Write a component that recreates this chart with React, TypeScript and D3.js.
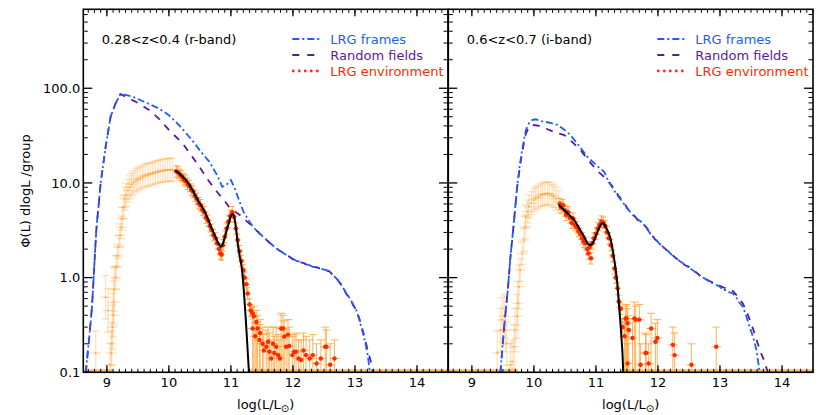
import React from 'react';
import * as d3 from 'd3';

const W = 830;
const H = 415;
const PANEL_LEFT = [83.3, 448.3];
const PANEL_W = 364.7;
const TOP = 9.3;
const BOTTOM = 372.3;

const xDomain: [number, number] = [8.62, 14.5];
const yDomain: [number, number] = [0.1, 682];

const xTickLabels = ['9', '10', '11', '12', '13', '14'];
const xTickValues = [9, 10, 11, 12, 13, 14];
const yTickValues = [0.1, 1, 10, 100];
const yTickLabels = ['0.1', '1.0', '10.0', '100.0'];
const yMinorTicks = [0.2, 0.3, 0.4, 0.5, 0.6, 0.7, 0.8, 0.9, 2, 3, 4, 5, 6, 7, 8, 9, 20, 30, 40, 50, 60, 70, 80, 90, 200, 300, 400, 500, 600];

const panelTitles = ['0.28<z<0.4 (r-band)', '0.6<z<0.7 (i-band)'];
const legendLabels = ['LRG frames', 'Random fields', 'LRG environment'];

// ---------- Panel A (0.28<z<0.4, r-band) ----------
const framesA = [[8.66,0.1],[8.72,0.25],[8.76,0.49],[8.83,3.2],[8.90,10],[8.98,24],[9.06,50],[9.14,69],[9.22,87],[9.30,85],[9.41,82],[9.60,72],[9.84,61],[10.00,52],[10.16,41],[10.38,28],[10.50,22],[10.65,16.8],[10.78,12],[10.86,9.1],[10.93,9.6],[11.00,10.7],[11.06,8.8],[11.13,6.6],[11.20,5.0],[11.30,3.9],[11.35,3.5],[11.40,3.2],[11.46,2.94],[11.52,2.7],[11.58,2.5],[11.63,2.3],[11.67,2.21],[11.72,2.05],[11.78,1.95],[11.84,1.82],[11.90,1.72],[11.94,1.66],[12.00,1.58],[12.06,1.50],[12.12,1.47],[12.17,1.42],[12.21,1.39],[12.27,1.35],[12.32,1.30],[12.38,1.28],[12.43,1.26],[12.49,1.22],[12.54,1.20],[12.58,1.16],[12.62,1.10],[12.66,1.04],[12.70,0.98],[12.75,0.90],[12.80,0.80],[12.86,0.68],[12.92,0.60],[12.97,0.52],[13.02,0.455],[13.07,0.36],[13.13,0.258],[13.17,0.20],[13.21,0.146],[13.24,0.10]];

const randomA = [[8.66,0.1],[8.72,0.25],[8.76,0.49],[8.83,3.2],[8.90,10],[8.98,24],[9.06,50],[9.14,69],[9.22,87],[9.30,81.5],[9.50,70],[9.68,59],[9.85,47],[10.00,36.3],[10.22,26.2],[10.35,20],[10.49,14.9],[10.62,11],[10.75,8.43],[10.87,6.8],[10.97,5.6],[11.08,4.9],[11.18,4.4],[11.26,3.9],[11.33,3.6],[11.40,3.2],[11.46,2.94],[11.52,2.72],[11.58,2.48],[11.63,2.32],[11.67,2.2],[11.72,2.08],[11.78,1.93],[11.84,1.84],[11.90,1.70],[11.94,1.67],[12.00,1.56],[12.06,1.52],[12.12,1.45],[12.17,1.43],[12.21,1.38],[12.27,1.36],[12.32,1.29],[12.38,1.29],[12.43,1.25],[12.49,1.23],[12.54,1.19],[12.58,1.17],[12.62,1.11],[12.66,1.03],[12.70,0.99],[12.75,0.89],[12.80,0.81],[12.86,0.67],[12.92,0.61],[12.97,0.51],[13.02,0.46],[13.07,0.37],[13.13,0.27],[13.18,0.2],[13.23,0.15],[13.27,0.12],[13.29,0.1]];

const fadedA = [[8.82,0.16],[8.98,0.62],[9.02,0.45],[9.05,0.12],[9.07,0.16],[9.08,0.2],[9.09,0.3],[9.10,0.4],[9.11,0.55],[9.12,0.75],[9.14,1.0],[9.15,1.3],[9.17,1.7],[9.19,2.1],[9.21,2.8],[9.23,3.4],[9.25,4.2],[9.27,5.5],[9.29,6.8],[9.31,7.5],[9.34,8.3],[9.37,9.0],[9.40,9.6],[9.43,10.1],[9.47,10.6],[9.50,11.0],[9.54,11.3],[9.58,11.7],[9.62,12.0],[9.66,12.2],[9.70,12.4],[9.74,12.7],[9.78,12.9],[9.82,13.1],[9.86,13.3],[9.90,13.5],[9.94,13.6],[9.98,13.8],[10.02,13.8],[10.06,13.7]];

const redA = [[10.12,13.2],[10.15,12.9],[10.18,12.2],[10.21,11.7],[10.24,10.9],[10.27,10.5],[10.30,9.8],[10.33,9.3],[10.36,8.5],[10.39,8.1],[10.42,7.3],[10.45,6.8],[10.48,6.1],[10.51,5.8],[10.54,5.2],[10.57,4.9],[10.60,4.3],[10.63,4.0],[10.66,3.5],[10.69,3.2],[10.72,2.8],[10.75,2.6],[10.78,2.3],[10.81,2.0],[10.83,1.8],[10.85,1.75],[10.87,2.2],[10.90,2.7],[10.93,3.3],[10.96,3.9],[10.99,4.5],[11.02,4.9],[11.05,4.4],[11.08,3.3],[11.11,2.5],[11.14,1.9],[11.17,1.5],[11.20,1.2],[11.22,1.0],[11.25,0.85],[11.27,0.68],[11.30,0.52],[11.32,0.45],[11.35,0.42]];

const scatterA = [[11.37,0.39,0.5],[11.41,0.34,0.45],[11.35,0.29,0.4],[11.43,0.29,0.4],[11.39,0.24,0.33],[11.46,0.22,0.32],[11.47,0.26,0.36],[11.51,0.20,0.3],[11.53,0.17,0.25],[11.57,0.186,0.28],[11.60,0.21,0.3],[11.62,0.165,0.26],[11.65,0.14,0.22],[11.68,0.2,0.3],[11.70,0.16,0.24],[11.73,0.186,0.3],[11.76,0.152,0.25],[11.79,0.14,0.22],[11.81,0.29,0.42],[11.84,0.29,0.4],[11.86,0.238,0.35],[11.89,0.186,0.28],[11.92,0.25,0.36],[11.94,0.19,0.3],[11.99,0.152,0.24],[12.02,0.165,0.25],[12.05,0.165,0.26],[12.09,0.14,0.22],[12.13,0.135,0.22],[12.17,0.17,0.26],[12.21,0.152,0.24],[12.27,0.14,0.22],[12.32,0.152,0.25],[12.38,0.124,0.2],[12.45,0.14,0.22],[12.52,0.186,0.3],[12.54,0.186,0.28],[12.60,0.12,0.2],[12.67,0.14,0.22]];

const fitA = [[10.10,13.6],[10.20,12.0],[10.30,10.2],[10.38,8.43],[10.45,6.9],[10.52,5.8],[10.59,4.78],[10.65,3.85],[10.70,3.2],[10.75,2.7],[10.79,2.35],[10.82,2.18],[10.84,2.12],[10.86,2.18],[10.88,2.38],[10.91,2.8],[10.94,3.3],[10.97,3.85],[10.99,4.3],[11.01,4.6],[11.03,4.7],[11.05,4.45],[11.07,3.8],[11.09,3.0],[11.11,2.3],[11.14,1.7],[11.18,1.2],[11.21,0.7],[11.24,0.36],[11.27,0.17],[11.29,0.1]];

const floorA = [8.66,8.74,8.82,8.90,8.98,9.06,11.34,11.42,11.50,11.58,11.66,11.74,11.82,11.90,11.98,12.06,12.14,12.22,12.30,12.38,12.46,12.54,12.62,12.70,12.78,12.86,12.94,13.02,13.10,13.18,13.26,13.34,13.42,13.50,13.58,13.66,13.74,13.82,13.90,13.98,14.06,14.14,14.22,14.30,14.38,14.46];

// ---------- Panel B (0.6<z<0.7, i-band) ----------
const framesB = [[9.46,0.1],[9.52,0.3],[9.58,0.75],[9.62,1.6],[9.68,4.0],[9.73,9.1],[9.77,15],[9.81,22.3],[9.87,36.3],[9.92,42.7],[9.97,46],[10.03,47],[10.12,45],[10.20,44],[10.30,42.5],[10.38,41],[10.48,37],[10.59,32],[10.72,25],[10.86,19],[11.00,15.5],[11.08,14.0],[11.13,13.2],[11.20,10.5],[11.29,8.4],[11.36,7.2],[11.43,6.3],[11.50,5.4],[11.56,4.9],[11.62,4.4],[11.68,4.1],[11.76,3.75],[11.82,3.3],[11.88,2.9],[11.95,2.6],[12.02,2.3],[12.08,2.1],[12.15,1.95],[12.22,1.75],[12.29,1.6],[12.36,1.48],[12.43,1.38],[12.50,1.28],[12.56,1.2],[12.62,1.12],[12.69,1.04],[12.76,0.97],[12.83,0.906],[12.90,0.86],[13.00,0.8],[13.05,0.74],[13.10,0.74],[13.15,0.70],[13.21,0.68],[13.26,0.62],[13.30,0.56],[13.37,0.49],[13.42,0.40],[13.48,0.30],[13.54,0.23],[13.59,0.17],[13.64,0.10]];

const randomB = [[9.46,0.1],[9.52,0.3],[9.58,0.75],[9.62,1.6],[9.68,4.0],[9.73,9.0],[9.77,14],[9.81,21],[9.87,33],[9.92,39],[9.97,41],[10.10,40],[10.22,36.9],[10.35,34],[10.49,32],[10.62,27],[10.75,22.3],[10.92,16.1],[11.02,13.5],[11.13,11.6],[11.22,10.0],[11.29,8.8],[11.36,7.4],[11.43,6.5],[11.50,5.5],[11.56,4.8],[11.62,4.5],[11.68,4.0],[11.76,3.7],[11.82,3.35],[11.88,2.95],[11.95,2.55],[12.02,2.32],[12.08,2.12],[12.15,1.92],[12.22,1.77],[12.29,1.6],[12.36,1.5],[12.43,1.36],[12.50,1.3],[12.56,1.2],[12.62,1.13],[12.69,1.03],[12.76,0.98],[12.83,0.92],[12.90,0.88],[13.00,0.82],[13.05,0.79],[13.10,0.77],[13.15,0.76],[13.21,0.72],[13.26,0.66],[13.30,0.62],[13.37,0.53],[13.42,0.455],[13.48,0.36],[13.54,0.28],[13.59,0.22],[13.66,0.16],[13.72,0.13],[13.77,0.10]];

const fadedB = [[9.41,0.16],[9.46,0.28],[9.49,0.36],[9.52,0.39],[9.54,0.28],[9.56,0.2],[9.62,0.12],[9.65,0.13],[9.68,0.186],[9.70,0.28],[9.73,0.39],[9.74,0.535],[9.76,0.8],[9.78,1.2],[9.81,1.8],[9.84,2.5],[9.86,3.45],[9.87,4.4],[9.90,5.0],[9.92,5.6],[9.96,6.1],[10.00,6.6],[10.03,6.9],[10.07,7.1],[10.11,7.4],[10.14,7.6],[10.18,7.7],[10.22,7.8],[10.25,7.7],[10.29,7.4],[10.32,7.2],[10.36,6.8],[10.40,6.3]];

const redB = [[10.42,6.0],[10.44,5.5],[10.47,5.8],[10.50,5.1],[10.52,4.6],[10.55,4.9],[10.58,4.3],[10.61,3.8],[10.63,4.2],[10.66,3.6],[10.69,3.4],[10.72,3.1],[10.75,2.9],[10.78,2.6],[10.80,2.4],[10.83,2.3],[10.86,2.0],[10.88,1.8],[10.90,2.1],[10.92,1.6],[10.94,2.3],[10.97,2.6],[11.00,2.9],[11.03,3.3],[11.06,3.6],[11.09,3.9],[11.12,3.8],[11.15,3.5],[11.18,3.0],[11.21,2.6],[11.24,2.2],[11.27,1.7],[11.30,1.25],[11.32,1.0],[11.35,0.77],[11.37,0.56],[11.40,0.47],[11.43,0.30]];

const scatterB = [[11.46,0.24,0.36],[11.48,0.37,0.5],[11.49,0.37,0.52],[11.51,0.33,0.47],[11.51,0.124,0.2],[11.53,0.28,0.4],[11.59,0.23,0.34],[11.62,0.37,0.55],[11.64,0.36,0.5],[11.70,0.36,0.52],[11.72,0.12,0.2],[11.80,0.16,0.26],[11.81,0.16,0.25],[11.85,0.124,0.2],[11.89,0.29,0.42],[11.96,0.21,0.33],[11.99,0.23,0.36],[12.24,0.195,0.3],[12.27,0.152,0.26],[12.54,0.12,0.2],[12.94,0.186,0.3]];

const fitB = [[10.40,5.85],[10.47,5.3],[10.54,4.78],[10.60,4.4],[10.65,4.06],[10.73,3.32],[10.81,2.7],[10.85,2.4],[10.88,2.25],[10.91,2.21],[10.94,2.28],[10.97,2.45],[11.00,2.75],[11.03,3.1],[11.06,3.45],[11.09,3.7],[11.11,3.75],[11.14,3.6],[11.17,3.3],[11.21,2.9],[11.24,2.5],[11.28,1.8],[11.32,1.2],[11.35,0.8],[11.37,0.535],[11.39,0.37],[11.41,0.24],[11.43,0.15],[11.44,0.1]];

const floorB = [8.66,8.74,8.82,8.90,8.98,9.06,9.14,9.22,9.30,9.38,9.46,9.54,9.62,9.70,11.46,11.54,11.62,11.70,11.78,11.86,11.94,12.02,12.10,12.18,12.26,12.34,12.42,12.50,12.58,12.66,12.74,12.82,12.90,12.98,13.06,13.14,13.22,13.30,13.38,13.46,13.54,13.62,13.70,13.78,13.86,13.94,14.02,14.10,14.18,14.26,14.34,14.42,14.50];

const panels = [
  { frames: framesA, random: randomA, faded: fadedA, red: redA, scatter: scatterA, fit: fitA, floor: floorA },
  { frames: framesB, random: randomB, faded: fadedB, red: redB, scatter: scatterB, fit: fitB, floor: floorB },
];

const BLUE = '#1f5cff';
const PURPLE = '#5b1a9c';
const RED = '#ff2a00';
const ORANGE = '#ffa033';
const FONT = 'DejaVu Sans, sans-serif';

function ErrBar({ x, y, x0, x1, y0, y1, cap, color, opacity, sw }: any) {
  return (
    <g stroke={color} strokeOpacity={opacity} strokeWidth={sw} fill="none">
      <line x1={x0} x2={x1} y1={y} y2={y} />
      <line x1={x} x2={x} y1={y0} y2={y1} />
      <line x1={x - cap} x2={x + cap} y1={y0} y2={y0} />
      <line x1={x - cap} x2={x + cap} y1={y1} y2={y1} />
    </g>
  );
}

function Panel({ idx }: { idx: number }) {
  const p = panels[idx];
  const L = PANEL_LEFT[idx];
  const R = L + PANEL_W;
  const x = d3.scaleLinear().domain(xDomain).range([L, R]);
  const y = d3.scaleLog().domain(yDomain).range([BOTTOM, TOP]);
  const yc = (v: number) => y(Math.max(v, yDomain[0]));
  const line = d3.line<number[]>().x(d => x(d[0])).y(d => yc(d[1]));
  const fitLine = d3.line<number[]>().x(d => x(d[0])).y(d => yc(d[1])).curve(d3.curveMonotoneX);
  const clipId = `clip${idx}`;
  const minorX = d3.range(87, 146).map(v => v / 10);

  return (
    <g>
      <defs>
        <clipPath id={clipId}>
          <rect x={L} y={TOP} width={PANEL_W} height={BOTTOM - TOP} />
        </clipPath>
      </defs>
      <g clipPath={`url(#${clipId})`}>
        {p.floor.map((v, i) => (
          <rect key={'f' + i} x={x(v - 0.04)} y={BOTTOM - 3} width={x(v + 0.04) - x(v - 0.04)} height={3} fill={ORANGE} fillOpacity={0.75} />
        ))}
        {p.faded.map((d, i) => {
          const f = d[1] < 1 ? 1.7 : 1.32;
          return (
            <g key={'fd' + i}>
              <ErrBar x={x(d[0])} y={yc(d[1])} x0={x(d[0] - 0.09)} x1={x(d[0] + 0.09)} y0={yc(d[1] / f)} y1={yc(d[1] * f)} cap={4} color={ORANGE} opacity={0.28} sw={1.5} />
              <circle cx={x(d[0])} cy={yc(d[1])} r={1} fill="#ff8a10" fillOpacity={0.6} />
            </g>
          );
        })}
        <path d={line(p.random as any) || ''} fill="none" stroke={PURPLE} strokeWidth={1.8} strokeDasharray="7 7" />
        <path d={line(p.frames as any) || ''} fill="none" stroke={BLUE} strokeWidth={1.8} strokeDasharray="7 3 2 3" />
        {p.scatter.map((d, i) => (
          <ErrBar key={'se' + i} x={x(d[0])} y={yc(d[1])} x0={x(d[0] - 0.08)} x1={x(d[0] + 0.08)} y0={yc(0.1)} y1={yc(d[2])} cap={4} color={ORANGE} opacity={0.8} sw={1} />
        ))}
        {p.red.map((d, i) => (
          <ErrBar key={'re' + i} x={x(d[0])} y={yc(d[1])} x0={x(d[0] - 0.05)} x1={x(d[0] + 0.05)} y0={yc(d[1] / 1.15)} y1={yc(d[1] * 1.15)} cap={2.5} color={ORANGE} opacity={0.9} sw={1} />
        ))}
        {p.scatter.map((d, i) => (
          <circle key={'sc' + i} cx={x(d[0])} cy={yc(d[1])} r={2.2} fill={RED} />
        ))}
        {p.red.map((d, i) => (
          <circle key={'rc' + i} cx={x(d[0])} cy={yc(d[1])} r={2.3} fill={RED} />
        ))}
        <path d={fitLine(p.fit as any) || ''} fill="none" stroke="#000" strokeWidth={2} />
      </g>

      <rect x={L} y={TOP} width={PANEL_W} height={BOTTOM - TOP} fill="none" stroke="#000" strokeWidth={1.6} />

      {minorX.map((v, i) => (
        <g key={'mx' + i} stroke="#000" strokeWidth={1}>
          <line x1={x(v)} x2={x(v)} y1={BOTTOM} y2={BOTTOM - 3.5} />
          <line x1={x(v)} x2={x(v)} y1={TOP} y2={TOP + 3.5} />
        </g>
      ))}
      {xTickValues.map((v, i) => (
        <g key={'Mx' + i}>
          <line x1={x(v)} x2={x(v)} y1={BOTTOM} y2={BOTTOM - 7} stroke="#000" strokeWidth={1.3} />
          <line x1={x(v)} x2={x(v)} y1={TOP} y2={TOP + 7} stroke="#000" strokeWidth={1.3} />
          <text x={x(v)} y={387} textAnchor="middle" fontFamily={FONT} fontSize={13} fill="#000">{xTickLabels[i]}</text>
        </g>
      ))}

      {yMinorTicks.map((v, i) => (
        <g key={'my' + i} stroke="#000" strokeWidth={1}>
          <line x1={L} x2={L + 4.5} y1={y(v)} y2={y(v)} />
          <line x1={R} x2={R - 4.5} y1={y(v)} y2={y(v)} />
        </g>
      ))}
      {yTickValues.map((v, i) => (
        <g key={'My' + i}>
          <line x1={L} x2={L + 9} y1={y(v)} y2={y(v)} stroke="#000" strokeWidth={1.3} />
          <line x1={R} x2={R - 9} y1={y(v)} y2={y(v)} stroke="#000" strokeWidth={1.3} />
          {idx === 0 && (
            <text x={L - 3} y={y(v)} dy="0.36em" textAnchor="end" fontFamily={FONT} fontSize={13} fill="#000">{yTickLabels[i]}</text>
          )}
        </g>
      ))}

      <text x={L + 18.5} y={39} dy="0.36em" fontFamily={FONT} fontSize={13} fill="#000">{panelTitles[idx]}</text>

      <g>
        <line x1={L + 209} x2={L + 236} y1={39} y2={39} stroke={BLUE} strokeWidth={1.8} strokeDasharray="7 3 2 3" />
        <text x={L + 247} y={39} dy="0.36em" fontFamily={FONT} fontSize={13} fill={BLUE}>{legendLabels[0]}</text>
        <line x1={L + 209} x2={L + 236} y1={55} y2={55} stroke={PURPLE} strokeWidth={1.8} strokeDasharray="7 8" />
        <text x={L + 247} y={55} dy="0.36em" fontFamily={FONT} fontSize={13} fill={PURPLE}>{legendLabels[1]}</text>
        {[0, 1, 2, 3, 4].map(k => (
          <circle key={'ld' + k} cx={L + 210 + k * 6} cy={71} r={1.4} fill={RED} />
        ))}
        <text x={L + 247} y={71} dy="0.36em" fontFamily={FONT} fontSize={13} fill={RED}>{legendLabels[2]}</text>
      </g>

      <text x={(L + R) / 2} y={409} textAnchor="middle" fontFamily={FONT} fontSize={13} fill="#000">
        log(L/L<tspan fontSize={10} dy={3}>⊙</tspan><tspan dy={-3}>)</tspan>
      </text>
    </g>
  );
}

export default function App() {
  return (
    <svg width={W} height={H} style={{ position: 'absolute', left: 0, top: 0, background: '#fff' }}>
      <rect x={0} y={0} width={W} height={H} fill="#fff" />
      <Panel idx={0} />
      <Panel idx={1} />
      <text transform={`translate(30,191) rotate(-90)`} textAnchor="middle" fontFamily={FONT} fontSize={13} fill="#000">
        Φ(L) dlogL  /group
      </text>
    </svg>
  );
}
